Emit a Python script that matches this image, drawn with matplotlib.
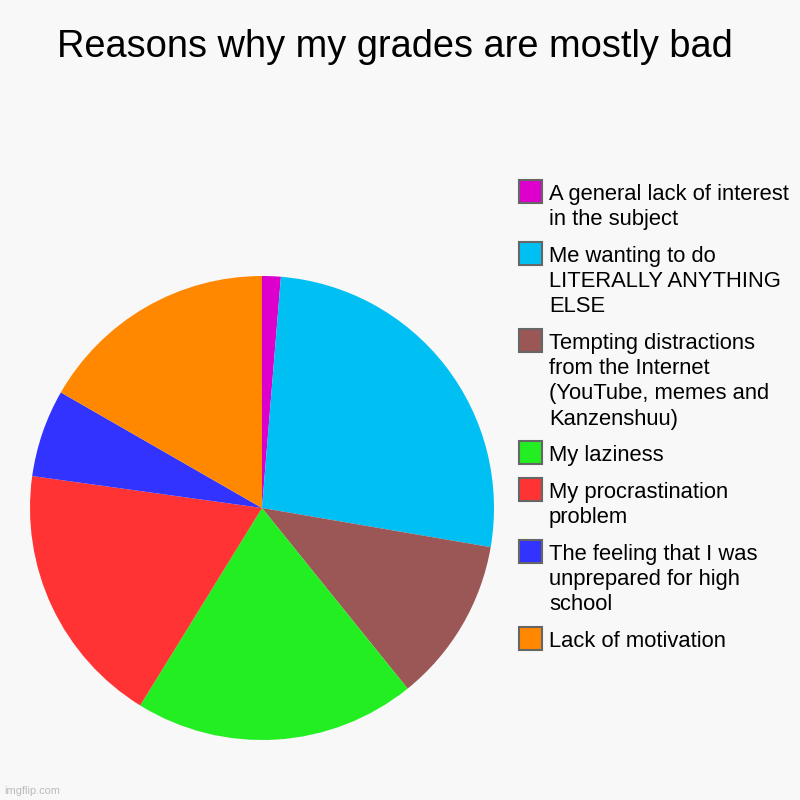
import matplotlib
matplotlib.use("Agg")
import matplotlib.pyplot as plt
from matplotlib.patches import Rectangle

plt.rcParams['font.family'] = ['Liberation Sans', 'DejaVu Sans']

title = "Reasons why my grades are mostly bad"
labels = [
    "A general lack of interest\nin the subject",
    "Me wanting to do\nLITERALLY ANYTHING\nELSE",
    "Tempting distractions\nfrom the Internet\n(YouTube, memes and\nKanzenshuu)",
    "My laziness",
    "My procrastination\nproblem",
    "The feeling that I was\nunprepared for high\nschool",
    "Lack of motivation",
]
values = [1.3, 26.4, 11.5, 19.6, 18.4, 6.1, 16.7]
colors = ["#dd00cc", "#00bff3", "#9b5656", "#22ee22", "#ff3333", "#3333ff", "#ff8800"]

bg = "#f8f8f8"
W = H = 800
fig = plt.figure(figsize=(8, 8), dpi=100, facecolor=bg)

cx, cy, r = 262, 508, 232
ax = fig.add_axes([(cx - r) / W, (H - cy - r) / H, 2 * r / W, 2 * r / H])
ax.set_facecolor(bg)
ax.pie(values, colors=colors, startangle=90, counterclock=False,
       wedgeprops=dict(linewidth=0))
ax.set_xlim(-1, 1)
ax.set_ylim(-1, 1)
ax.set_aspect('equal')
ax.axis('off')

fig.text(395 / W, 1 - 47 / H, title, ha='center', va='center', fontsize=38 * 72 / 100, color='#000000')

# legend
line_h = 25.3
gap = 36.5
y = 192
for lab, col in zip(labels, colors):
    n = lab.count("\n") + 1
    fig.patches.append(Rectangle((519 / W, 1 - (y + 11) / H), 23 / W, 23 / H,
                                 transform=fig.transFigure, facecolor=col,
                                 edgecolor='#666666', linewidth=1.5))
    for i, ln in enumerate(lab.split("\n")):
        fig.text(549 / W, 1 - (y + i * line_h) / H, ln, ha='left', va='center_baseline',
                 fontsize=22 * 72 / 100, color='#000000')
    y += (n - 1) * line_h + gap

fig.text(4 / W, 1 - 791 / H, "imgflip.com", ha='left', va='center', fontsize=11 * 72 / 100, color='#bbbbbb')

fig.savefig("out.png", dpi=100, facecolor=bg)
